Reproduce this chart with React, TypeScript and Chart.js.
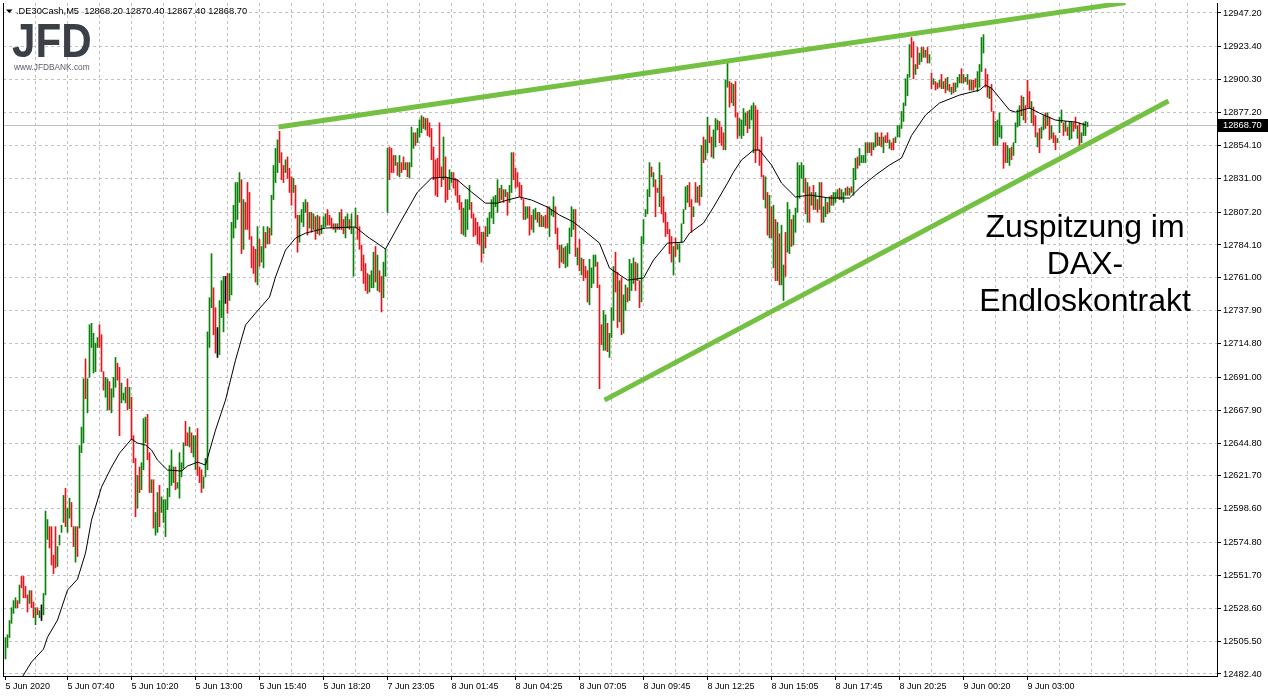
import React, { useEffect, useRef } from 'react';
import { Chart, registerables } from 'chart.js';

Chart.register(...registerables);

// ---------- data ----------
const highs = [
  12508,12510,12520,12529,12534,12536,12534,12545,12551,12551,
  12544,12538,12541,12541,12533,12529,12529,12527,12531,12539,
  12597,12591,12586,12586,12566,12586,12572,12580,12587,12608,
  12613,12599,12606,12603,12586,12586,12586,12643,12656,12690,
  12704,12690,12728,12729,12722,12715,12719,12728,12721,12695,
  12691,12690,12688,12683,12691,12705,12701,12698,12687,12680,
  12684,12690,12684,12677,12650,12634,12622,12628,12631,12662,
  12663,12665,12638,12619,12619,12596,12610,12615,12607,12605,
  12605,12613,12629,12640,12628,12628,12617,12638,12631,12645,
  12660,12652,12656,12652,12650,12650,12655,12628,12626,12621,
  12634,12723,12747,12778,12754,12740,12726,12745,12759,12762,
  12762,12764,12764,12800,12812,12828,12828,12835,12830,12816,
  12814,12828,12821,12790,12783,12781,12797,12788,12783,12797,
  12793,12797,12796,12819,12840,12852,12858,12864,12849,12840,
  12844,12846,12838,12832,12831,12826,12805,12805,12809,12814,
  12816,12814,12807,12807,12806,12804,12805,12804,12798,12804,
  12806,12809,12805,12803,12799,12799,12799,12807,12809,12802,
  12804,12806,12802,12806,12796,12810,12805,12797,12784,12777,
  12771,12764,12763,12766,12779,12783,12777,12766,12762,12772,
  12781,12852,12853,12852,12847,12847,12842,12847,12842,12846,
  12842,12842,12842,12867,12863,12863,12866,12872,12875,12874,
  12873,12873,12870,12866,12853,12844,12845,12870,12839,12860,
  12846,12831,12837,12835,12835,12831,12830,12819,12814,12810,
  12816,12816,12826,12814,12806,12803,12800,12797,12793,12793,
  12797,12803,12807,12816,12818,12819,12830,12824,12826,12823,
  12823,12821,12826,12849,12849,12838,12835,12828,12826,12816,
  12811,12811,12811,12805,12809,12810,12807,12807,12805,12804,
  12805,12811,12811,12809,12818,12811,12796,12784,12784,12782,
  12783,12785,12796,12811,12809,12809,12782,12788,12775,12774,
  12769,12766,12774,12768,12777,12777,12772,12756,12728,12738,
  12735,12729,12722,12740,12769,12779,12765,12759,12761,12749,
  12756,12754,12774,12771,12775,12772,12771,12759,12790,12802,
  12809,12823,12842,12839,12835,12830,12824,12842,12833,12818,
  12807,12800,12795,12790,12783,12789,12785,12785,12799,12809,
  12825,12826,12828,12816,12811,12828,12825,12826,12854,12860,
  12858,12874,12868,12860,12865,12873,12872,12871,12867,12863,
  12900,12914,12899,12898,12897,12899,12877,12873,12872,12880,
  12877,12878,12879,12882,12884,12882,12879,12851,12860,12833,
  12832,12821,12819,12811,12812,12802,12800,12792,12798,12770,
  12793,12814,12809,12802,12805,12810,12842,12840,12842,12840,
  12831,12828,12825,12821,12826,12821,12816,12828,12828,12811,
  12817,12814,12818,12819,12821,12821,12823,12824,12823,12821,
  12824,12825,12824,12825,12838,12845,12846,12852,12847,12847,
  12856,12856,12856,12856,12856,12863,12863,12860,12863,12860,
  12861,12863,12858,12856,12859,12860,12868,12868,12878,12884,
  12901,12904,12925,12930,12927,12911,12923,12919,12923,12923,
  12921,12923,12918,12905,12901,12899,12898,12900,12904,12899,
  12901,12902,12897,12895,12898,12898,12902,12904,12908,12904,
  12902,12904,12900,12900,12900,12901,12906,12911,12930,12932,
  12908,12904,12895,12897,12878,12871,12872,12877,12868,12856,
  12856,12854,12852,12853,12856,12870,12879,12882,12889,12888,
  12882,12900,12892,12885,12881,12875,12863,12866,12867,12875,
  12877,12877,12874,12868,12863,12861,12859,12874,12879,12870,
  12871,12867,12871,12871,12870,12874,12868,12870,12863,12870,
  12871,12870.4,
];

const lows = [
  12493,12501,12508,12518,12525,12529,12529,12532,12543,12536,
  12536,12526,12532,12529,12522,12517,12524,12522,12520,12524,
  12538,12577,12571,12559,12553,12557,12558,12573,12582,12589,
  12586,12582,12592,12586,12572,12561,12565,12585,12638,12645,
  12676,12666,12691,12712,12694,12695,12712,12712,12695,12682,
  12677,12668,12668,12666,12677,12684,12689,12650,12673,12675,
  12673,12668,12669,12647,12631,12593,12599,12610,12612,12626,
  12645,12633,12610,12610,12585,12580,12582,12586,12596,12589,
  12579,12598,12607,12615,12617,12612,12613,12606,12621,12627,
  12643,12643,12642,12638,12635,12626,12622,12617,12610,12613,
  12621,12626,12712,12740,12721,12708,12705,12707,12733,12723,
  12743,12736,12745,12749,12789,12796,12802,12814,12778,12781,
  12795,12795,12788,12768,12764,12758,12756,12769,12772,12768,
  12782,12785,12785,12791,12816,12828,12835,12842,12830,12828,
  12835,12831,12821,12812,12821,12803,12779,12786,12800,12797,
  12807,12791,12796,12793,12795,12788,12792,12791,12792,12796,
  12797,12798,12798,12796,12795,12793,12795,12795,12795,12792,
  12789,12796,12795,12792,12762,12796,12788,12781,12766,12757,
  12752,12750,12751,12754,12754,12758,12752,12751,12737,12747,
  12762,12807,12830,12835,12835,12840,12833,12832,12835,12837,
  12837,12832,12831,12839,12852,12854,12856,12860,12863,12866,
  12865,12861,12860,12844,12830,12819,12818,12832,12825,12830,
  12814,12816,12823,12828,12824,12819,12814,12809,12792,12791,
  12790,12795,12809,12803,12790,12791,12785,12784,12772,12778,
  12782,12790,12792,12803,12799,12811,12807,12814,12816,12814,
  12818,12805,12814,12821,12830,12824,12825,12818,12816,12802,
  12802,12803,12791,12795,12793,12802,12800,12797,12797,12797,
  12796,12796,12790,12805,12804,12792,12781,12768,12772,12771,
  12768,12769,12778,12790,12795,12776,12770,12766,12763,12759,
  12761,12744,12742,12754,12757,12769,12754,12683,12714,12710,
  12710,12709,12705,12719,12731,12751,12726,12730,12721,12722,
  12738,12744,12745,12752,12757,12752,12759,12740,12744,12785,
  12804,12806,12818,12832,12825,12804,12821,12811,12806,12800,
  12790,12792,12778,12772,12763,12776,12781,12772,12786,12799,
  12809,12814,12811,12793,12804,12814,12814,12812,12818,12842,
  12844,12849,12856,12846,12845,12853,12865,12856,12854,12851,
  12851,12895,12881,12884,12882,12874,12859,12861,12859,12861,
  12868,12863,12866,12872,12849,12842,12851,12840,12832,12816,
  12810,12791,12789,12789,12768,12759,12759,12756,12756,12745,
  12762,12779,12778,12783,12784,12793,12807,12817,12831,12821,
  12806,12800,12800,12812,12809,12809,12807,12809,12800,12800,
  12804,12806,12807,12812,12812,12814,12817,12816,12816,12814,
  12819,12819,12819,12821,12819,12830,12838,12840,12842,12842,
  12842,12849,12849,12847,12851,12853,12854,12854,12853,12849,
  12856,12856,12852,12851,12851,12856,12860,12860,12866,12871,
  12882,12889,12902,12916,12901,12904,12908,12911,12913,12916,
  12916,12912,12912,12894,12897,12893,12894,12895,12894,12894,
  12891,12893,12892,12890,12891,12892,12895,12898,12898,12898,
  12899,12897,12893,12893,12893,12895,12892,12895,12906,12919,
  12895,12888,12887,12878,12854,12854,12854,12860,12859,12838,
  12842,12842,12840,12844,12847,12856,12867,12868,12875,12872,
  12870,12881,12880,12870,12868,12860,12853,12849,12859,12865,
  12866,12868,12858,12859,12856,12851,12856,12863,12870,12861,
  12864,12861,12858,12859,12864,12866,12859,12854,12856,12861,
  12861,12867.4,
];

// g = up bar, r = down bar, k = unchanged
const barDirs = [
  'ggggggrgrr','rrgrrgrgkg','ggrrrrgggg','rggrrgrggg','rggggggrrr',
  'ggrgggrrgg','grgrrrgrgg','grrgrggrgg','gggggrgggg','rrgrggrrrg',
  'ggggrrkggg','krggggggrg','rrrrrrgrgg','rgrggggrrr','grrrgrrggg',
  'grgrgrgrgg','grrrrgrgrr','ggrgggrrrr','rrgggrgrrg','ggrrrgrgrr',
  'grgggrgggr','grrrrrrrrg','rrggrrrrrg','gggrrrrrrg','rggggggrgr',
  'grggrrrrrr','ggrrggrgrg','rrgggrrrgr','gggggrgrgr','rrggggrrrg',
  'grgggrrgrg','grgggrgrgg','gggrgrrgrr','rrrrgrgggg','ggrrgrgrgr',
  'ggrrgggrrr','ggrrgrrggg','grgggrrrrr','grgrgrgrgg','rggrgggggg',
  'rgrgrgrgrg','grgrgggrgg','grgrggrggg','grgrggrgrg','rrgrrggggg',
  'gggrrgrggr','grgrgrrgrg','rgrgrgggrg','rgrgrrgggg','rrgrrggggr',
  'rggrggggrg','rrrgrrgrgg','rgrgrrgggr','grggrrgrgg','gg',
].join('').split('');

// 20-period moving average, read at selected bars
const maBars = [
  8,13,19,21,26,31,36,40,43,48,53,57,63,66,70,73,76,81,88,91,
  96,100,105,110,115,120,125,132,135,140,145,150,160,175,180,182,185,190,198,206,
  213,220,226,233,240,246,251,257,263,271,277,284,289,297,302,311,319,324,331,339,
  342,349,354,361,364,368,374,377,383,388,395,402,412,422,427,435,442,448,453,460,
  467,477,487,490,493,502,505,512,517,525,535,540,
];
const maValues = [
  12479.5,12490.8,12499.9,12508.3,12520.3,12541.4,12549.1,12567.4,12590.6,12613.8,
  12627.9,12637.7,12647.6,12644.8,12643.4,12639.9,12632.8,12625.8,12625.1,12628.6,
  12631.4,12629.3,12653.9,12675.0,12703.1,12727.8,12736.2,12747.4,12761.5,12780.5,
  12788.9,12792.4,12796.0,12796.7,12791.0,12788.9,12786.1,12781.2,12801.6,12821.3,
  12831.1,12831.8,12829.7,12821.3,12813.5,12813.5,12815.7,12817.8,12815.7,12810.7,
  12805.1,12800.2,12794.6,12785.4,12767.8,12759.4,12760.8,12773.5,12785.4,12786.1,
  12792.4,12799.5,12810.7,12827.6,12835.3,12843.8,12850.8,12850.8,12840.3,12827.6,
  12817.8,12819.2,12817.1,12817.1,12824.1,12833.2,12840.3,12845.2,12861.0,12875.4,
  12883.9,12889.5,12893.0,12896.5,12894.4,12878.9,12877.5,12880.4,12876.8,12871.9,
  12870.5,12868.4,
];

const upperTrendBars = [136.5, 560];
const upperTrendValues = [12867.0, 12954.5];
const lowerTrendBars = [299.5, 581.5];
const lowerTrendValues = [12675.0, 12885.3];

const xTickBars = [0, 31, 63, 95, 127, 159, 191, 223, 255, 287, 319, 351, 383, 415, 447, 479, 511];
const xTickLabels = [
  '5 Jun 2020', '5 Jun 07:40', '5 Jun 10:20', '5 Jun 13:00', '5 Jun 15:40', '5 Jun 18:20',
  '7 Jun 23:05', '8 Jun 01:45', '8 Jun 04:25', '8 Jun 07:05', '8 Jun 09:45', '8 Jun 12:25',
  '8 Jun 15:05', '8 Jun 17:45', '8 Jun 20:25', '9 Jun 00:20', '9 Jun 03:00',
];
const yTickValues = [
  12947.2, 12923.4, 12900.3, 12877.2, 12854.1, 12831.0, 12807.2, 12784.1, 12761.0, 12737.9,
  12714.8, 12691.0, 12667.9, 12644.8, 12621.7, 12598.6, 12574.8, 12551.7, 12528.6, 12505.5,
  12482.4,
];

const headerText = '.DE30Cash,M5  12868.20 12870.40 12867.40 12868.70';
const lastPrice = 12868.7;
const annotationLines = ['Zuspitzung im', 'DAX-', 'Endloskontrakt'];
const logoText = 'JFD';
const logoUrl = 'www.JFDBANK.com';

// ---------- layout / style ----------
const W = 1268;
const H = 697;
const PLOT_LEFT = 3;
const PLOT_TOP = 3;
const PLOT_RIGHT = 1217;
const PLOT_BOTTOM = 676;
const X_MIN = -1.25;
const X_MAX = X_MIN + (PLOT_RIGHT - PLOT_LEFT) / 2;
const Y_MAX = 12954.23;
const Y_MIN = 12480.99;
const GRID = '#c0c0c0';
const UP = '#0b800b';
const DOWN = '#e6141b';
const TREND = '#73c042';
const FONT = '"Liberation Sans", Arial, sans-serif';

const xGridBars: number[] = [0];
for (let v = 15; v <= X_MAX; v += 16) xGridBars.push(v);

const overlayPlugin = {
  id: 'overlay',
  beforeDatasetsDraw(chart: any) {
    const { ctx, chartArea, scales } = chart;
    const py = Math.round(scales.y.getPixelForValue(lastPrice)) + 0.5;
    ctx.save();
    ctx.strokeStyle = '#c0c0c0';
    ctx.lineWidth = 1;
    ctx.beginPath();
    ctx.moveTo(chartArea.left, py);
    ctx.lineTo(chartArea.right, py);
    ctx.stroke();
    ctx.restore();
  },
  afterDraw(chart: any) {
    const { ctx, chartArea, scales } = chart;
    ctx.save();
    // left border
    ctx.strokeStyle = '#000';
    ctx.lineWidth = 1;
    ctx.beginPath();
    ctx.moveTo(chartArea.left + 0.5, chartArea.top);
    ctx.lineTo(chartArea.left + 0.5, chartArea.bottom + 1);
    ctx.stroke();

    // header
    ctx.fillStyle = '#000';
    ctx.beginPath();
    ctx.moveTo(6, 9.5);
    ctx.lineTo(12.5, 9.5);
    ctx.lineTo(9.25, 13);
    ctx.closePath();
    ctx.fill();
    ctx.font = `9.3px ${FONT}`;
    ctx.textAlign = 'left';
    ctx.textBaseline = 'alphabetic';
    ctx.fillText(headerText, 16, 14);

    // logo
    ctx.save();
    ctx.fillStyle = '#3b4047';
    ctx.font = `bold 49px ${FONT}`;
    ctx.translate(12, 57);
    ctx.scale(0.86, 1);
    ctx.fillText(logoText, 0, 0);
    ctx.restore();
    ctx.fillStyle = '#5a5f66';
    ctx.font = `8.3px ${FONT}`;
    ctx.fillText(logoUrl, 14, 70);

    // annotation
    ctx.fillStyle = '#000';
    ctx.font = `32px ${FONT}`;
    ctx.textAlign = 'center';
    annotationLines.forEach((t, k) => ctx.fillText(t, 1085, 237 + k * 37));

    // current price box
    const py = scales.y.getPixelForValue(lastPrice);
    ctx.fillStyle = '#000';
    ctx.fillRect(chartArea.right + 1, Math.round(py) - 6, W - chartArea.right - 1, 13);
    ctx.fillStyle = '#fff';
    ctx.font = `9.3px ${FONT}`;
    ctx.textAlign = 'left';
    ctx.textBaseline = 'middle';
    ctx.fillText(lastPrice.toFixed(2), chartArea.right + 6, Math.round(py) + 0.5);
    ctx.restore();
  },
};

export default function App() {
  const ref = useRef<HTMLCanvasElement | null>(null);

  useEffect(() => {
    if (!ref.current) return;
    const barData = highs.map((h, i) => ({ x: i, y: [lows[i], h] }));
    const barColors = barDirs.map((d) => (d === 'g' ? UP : d === 'r' ? DOWN : '#000'));
    const chart = new Chart(ref.current, {
      type: 'bar',
      data: {
        datasets: [
          {
            type: 'line',
            label: 'upper',
            data: upperTrendBars.map((x, k) => ({ x, y: upperTrendValues[k] })),
            borderColor: TREND,
            borderWidth: 5,
            pointRadius: 0,
            order: 1,
          } as any,
          {
            type: 'line',
            label: 'lower',
            data: lowerTrendBars.map((x, k) => ({ x, y: lowerTrendValues[k] })),
            borderColor: TREND,
            borderWidth: 5,
            pointRadius: 0,
            order: 1,
          } as any,
          {
            type: 'line',
            label: 'MA',
            data: maBars.map((x, k) => ({ x, y: maValues[k] })),
            borderColor: '#000',
            borderWidth: 1,
            pointRadius: 0,
            tension: 0,
            order: 2,
          } as any,
          {
            type: 'bar',
            label: 'DE30',
            data: barData as any,
            backgroundColor: barColors,
            borderWidth: 0,
            barThickness: 1,
            order: 3,
          } as any,
        ],
      },
      options: {
        animation: false,
        responsive: false,
        devicePixelRatio: 1,
        events: [],
        layout: { padding: { left: PLOT_LEFT, top: PLOT_TOP, right: 0, bottom: 0 } },
        plugins: { legend: { display: false }, tooltip: { enabled: false } },
        scales: {
          x: {
            type: 'linear',
            min: X_MIN,
            max: X_MAX,
            offset: false,
            grid: {
              offset: false,
              color: (c: any) => (c.tick && c.tick.value === 0 ? 'rgba(0,0,0,0)' : GRID),
              tickLength: 4,
              tickColor: (c: any) => (c.tick && xTickBars.includes(c.tick.value) ? '#000' : 'rgba(0,0,0,0)'),
            },
            border: { display: true, color: '#000', width: 1, dash: [3, 3] },
            ticks: {
              autoSkip: false,
              maxRotation: 0,
              minRotation: 0,
              align: 'start',
              padding: 1,
              color: '#000',
              font: { family: FONT, size: 9 },
              callback: (v: any) => {
                const k = xTickBars.indexOf(Number(v));
                return k >= 0 ? xTickLabels[k] : '';
              },
            },
            afterBuildTicks: (s: any) => {
              s.ticks = xGridBars.map((v) => ({ value: v }));
            },
            afterFit: (s: any) => {
              s.height = H - PLOT_BOTTOM;
              s.paddingLeft = 0;
              s.paddingRight = 0;
            },
          } as any,
          y: {
            type: 'linear',
            position: 'right',
            min: Y_MIN,
            max: Y_MAX,
            beginAtZero: false,
            grid: { color: GRID, tickLength: 4, tickColor: '#000' },
            border: { display: true, color: '#000', width: 1, dash: [3, 3] },
            ticks: {
              padding: 2,
              color: '#000',
              font: { family: FONT, size: 9.3 },
              callback: (v: any) => Number(v).toFixed(2),
            },
            afterBuildTicks: (s: any) => {
              s.ticks = yTickValues.map((v) => ({ value: v }));
            },
            afterFit: (s: any) => {
              s.width = W - PLOT_RIGHT;
              s.paddingTop = 0;
              s.paddingBottom = 0;
            },
          } as any,
        },
      },
      plugins: [overlayPlugin],
    });
    return () => chart.destroy();
  }, []);

  return (
    <div style={{ position: 'fixed', left: 0, top: 0, width: W, height: H, background: '#fff' }}>
      <canvas ref={ref} width={W} height={H} style={{ display: 'block', width: W, height: H }} />
    </div>
  );
}
